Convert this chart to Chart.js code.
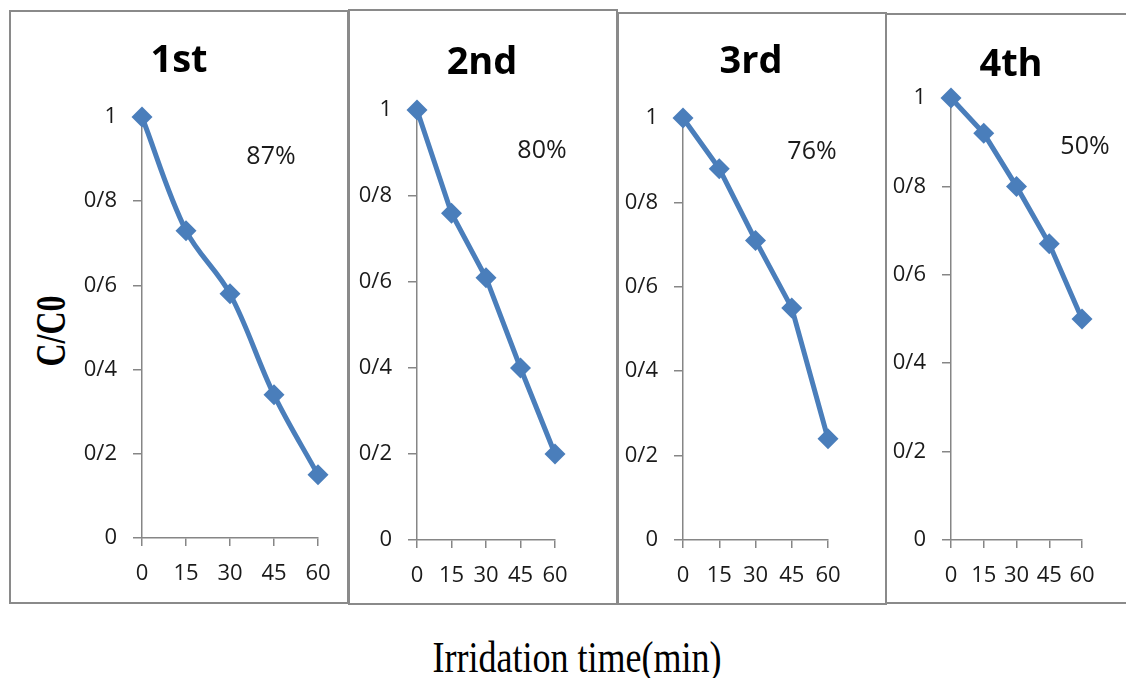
<!DOCTYPE html>
<html>
<head>
<meta charset="utf-8">
<script src="https://cdn.jsdelivr.net/npm/chart.js@4"></script>
<style>
  html, body { margin: 0; padding: 0; background: #fff; }
  #page { position: relative; width: 1126px; height: 678px; overflow: hidden; }
  #page canvas { position: absolute; left: 0; top: 0; }
  .box { position: absolute; border: 2px solid #8a8a8a; box-sizing: border-box; }
  .ytitle {
    position: absolute; left: 51px; top: 331px;
    font: bold 32px "Liberation Serif", serif; color: #000;
    transform: translate(-50%, -50%) rotate(-90deg) scaleY(1.3);
    white-space: nowrap;
  }
  .xtitle {
    position: absolute; left: 577px; top: 657px;
    font: 36px "Liberation Serif", serif; color: #000;
    transform: translate(-50%, -50%) scaleY(1.25);
    white-space: nowrap;
  }
</style>
</head>
<body>
<div id="page">
  <div class="ytitle">C/C0</div>
  <div class="xtitle">Irridation time(min)</div>
</div>
<script>
// irradiation times (min)
const times = [0, 15, 30, 45, 60];
// C/C0 for each reuse cycle
const run1 = [1, 0.73, 0.58, 0.34, 0.15];
const run2 = [1, 0.76, 0.61, 0.40, 0.20];
const run3 = [1, 0.88, 0.71, 0.55, 0.24];
const run4 = [1, 0.92, 0.80, 0.67, 0.50];
const runTitles = ['1st', '2nd', '3rd', '4th'];
const removal = ['87%', '80%', '76%', '50%'];
const yTicks = [0, 0.2, 0.4, 0.6, 0.8, 1];

const runs = [run1, run2, run3, run4];

// page layout of each panel (px)
const panels = [
  { box: [9, 10, 349, 604],   axisX: 142, x60: 318,  y1: 117, y0: 538, title: [179, 61],  pct: [271, 157],  tension: 0.35 },
  { box: [348, 9, 618, 605],  axisX: 417, x60: 555,  y1: 110, y0: 540, title: [482, 63],  pct: [542, 151],  tension: 0 },
  { box: [617, 12, 887, 605], axisX: 683, x60: 828,  y1: 118, y0: 540, title: [751, 62],  pct: [812, 152],  tension: 0 },
  { box: [885, 13, 1140, 604], axisX: 951, x60: 1082, y1: 98,  y0: 540, title: [1011, 65], pct: [1085, 147], tension: 0 }
];

const W = 1126, H = 678;
const YW = 80, XH = 60;
const blue = '#4a7ebb';
const axisGray = '#868686';
const font = '"Open Sans", "DejaVu Sans", sans-serif';

const page = document.getElementById('page');

const panelText = {
  id: 'panelText',
  afterDraw(chart, args, opts) {
    const ctx = chart.ctx;
    ctx.save();
    ctx.fillStyle = '#000';
    ctx.textAlign = 'center';
    ctx.textBaseline = 'middle';
    ctx.font = 'bold 38px ' + font;
    ctx.fillText(opts.title, opts.titlePos[0], opts.titlePos[1]);
    ctx.fillStyle = '#1a1a1a';
    ctx.font = '25px ' + font;
    ctx.fillText(opts.pct, opts.pctPos[0], opts.pctPos[1]);
    ctx.restore();
  }
};

panels.forEach((p, i) => {
  const box = document.createElement('div');
  box.className = 'box';
  box.style.left = p.box[0] + 'px';
  box.style.top = p.box[1] + 'px';
  box.style.width = (p.box[2] - p.box[0]) + 'px';
  box.style.height = (p.box[3] - p.box[1]) + 'px';
  page.appendChild(box);

  const canvas = document.createElement('canvas');
  canvas.width = W;
  canvas.height = H;
  page.appendChild(canvas);

  new Chart(canvas.getContext('2d'), {
    type: 'line',
    data: {
      datasets: [{
        data: times.map((t, k) => ({ x: t, y: runs[i][k] })),
        borderColor: blue,
        backgroundColor: blue,
        borderWidth: 5,
        pointStyle: 'rectRot',
        pointRadius: 10.5,
        pointBorderWidth: 0,
        pointBackgroundColor: blue,
        tension: p.tension,
        clip: false
      }]
    },
    options: {
      responsive: false,
      animation: false,
      devicePixelRatio: 1,
      events: [],
      layout: {
        padding: {
          left: p.axisX - YW,
          right: W - p.x60,
          top: p.y1,
          bottom: H - p.y0 - XH
        }
      },
      plugins: {
        legend: { display: false },
        tooltip: { enabled: false },
        panelText: { title: runTitles[i], titlePos: p.title, pct: removal[i], pctPos: p.pct }
      },
      scales: {
        x: {
          type: 'linear',
          min: 0,
          max: 60,
          afterBuildTicks: s => { s.ticks = times.map(v => ({ value: v })); },
          afterFit: s => { s.height = XH; },
          grid: { drawOnChartArea: false, color: axisGray, tickLength: 8, lineWidth: 1.5 },
          border: { color: axisGray, width: 1.5 },
          ticks: { font: { family: font, size: 22 }, color: '#1a1a1a', padding: 15, maxRotation: 0, autoSkip: false }
        },
        y: {
          min: 0,
          max: 1,
          afterBuildTicks: s => { s.ticks = yTicks.map(v => ({ value: v })); },
          afterFit: s => { s.width = YW; },
          grid: { drawOnChartArea: false, color: axisGray, tickLength: 9, lineWidth: 1.5 },
          border: { color: axisGray, width: 1.5 },
          ticks: {
            font: { family: font, size: 22 },
            color: '#1a1a1a',
            padding: 16,
            callback: v => String(+v.toFixed(1)).replace('.', '/')
          }
        }
      }
    },
    plugins: [panelText]
  });
});
</script>
</body>
</html>
